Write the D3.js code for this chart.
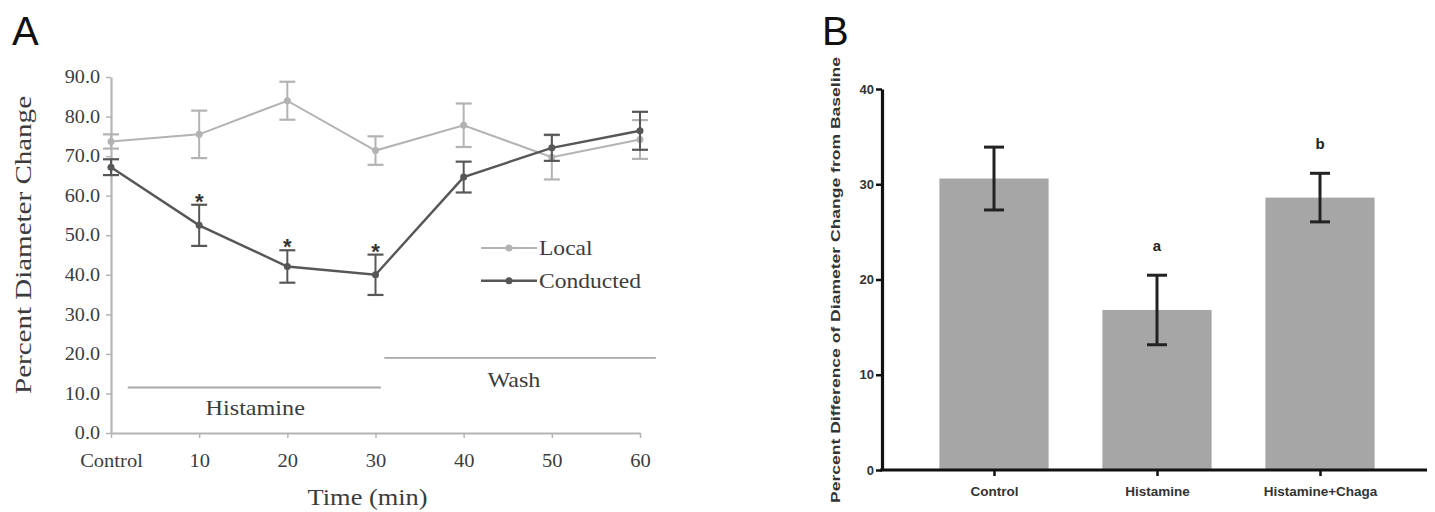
<!DOCTYPE html>
<html><head><meta charset="utf-8">
<script src="https://cdn.jsdelivr.net/npm/d3@7"></script>
<style>body{margin:0;background:#fff}svg{display:block}</style>
</head><body>
<svg id="c" width="1435" height="512"></svg>
<script>
// ---- Panel A data ----
const timeCats = ["Control","10","20","30","40","50","60"];
const localMean = [73.7, 75.5, 84.0, 71.4, 77.8, 69.7, 74.2];
const localErr  = [1.8, 6.0, 4.8, 3.6, 5.5, 5.6, 4.9];
const condMean  = [67.2, 52.5, 42.1, 40.0, 64.7, 72.1, 76.4];
const condErr   = [2.0, 5.2, 4.1, 5.1, 3.9, 3.3, 4.8];
const sigCats   = ["10","20","30"];
const yTicksA   = [0,10,20,30,40,50,60,70,80,90];
const seriesNames = ["Local","Conducted"];

// ---- Panel B data ----
const groupCats = ["Control","Histamine","Histamine+Chaga"];
const groupMean = [30.6, 16.8, 28.6];
const groupErr  = [3.3, 3.65, 2.55];
const groupLetters = ["", "a", "b"];
const yTicksB = [0,10,20,30,40];

const svg = d3.select("#c");
const serif = "'Liberation Serif','Times New Roman',serif";
const sans = "'Liberation Sans',Arial,sans-serif";
function stretch(sel, k){ sel.each(function(){ const w=this.getComputedTextLength(); this.setAttribute("textLength", w*k); this.setAttribute("lengthAdjust","spacingAndGlyphs");}); return sel; }

// ================= Panel A =================
const xA = d3.scalePoint().domain(timeCats).range([111, 640]);
const yA = d3.scaleLinear().domain([0,90]).range([433, 77]);
const gA = svg.append("g");
const axisCol = "#b4b4b4", txtA = "#3c3c3c";
const localCol = "#b3b3b3", condCol = "#575757";

svg.append("text").attr("x",12).attr("y",45).attr("font-family",sans).attr("font-size",40).attr("fill","#111").text("A");

// annotation lines
const step = xA.step();
gA.append("line").attr("x1", xA("Control")+0.19*step).attr("x2", xA("30")+0.06*step)
  .attr("y1", yA(11.5)).attr("y2", yA(11.5)).attr("stroke","#a8a8a8").attr("stroke-width",1.8);
gA.append("line").attr("x1", xA("30")+0.1*step).attr("x2", xA("60")+0.18*step)
  .attr("y1", yA(19)).attr("y2", yA(19)).attr("stroke","#a8a8a8").attr("stroke-width",1.8);
stretch(gA.append("text").attr("x", (xA("10")+xA("20"))/2+12).attr("y", yA(11.5)+27).attr("text-anchor","middle")
  .attr("font-family",serif).attr("font-size",21).attr("fill",txtA).text("Histamine"),1.15);
stretch(gA.append("text").attr("x", xA("40")+0.57*step).attr("y", yA(19)+29).attr("text-anchor","middle")
  .attr("font-family",serif).attr("font-size",21).attr("fill",txtA).text("Wash"),1.15);

// axes
const axL = gA.append("g").attr("transform",`translate(${xA("Control")},0)`)
  .call(d3.axisLeft(yA).tickValues(yTicksA).tickFormat(d3.format(".1f")).tickSize(5).tickSizeOuter(0));
const axB = gA.append("g").attr("transform",`translate(0,${yA(0)})`)
  .call(d3.axisBottom(xA).tickSize(5).tickSizeOuter(0));
[axL,axB].forEach(a=>{
  a.select(".domain").attr("stroke",axisCol).attr("stroke-width",2.2);
  a.selectAll(".tick line").attr("stroke",axisCol).attr("stroke-width",1.5);
  a.selectAll("text").attr("font-family",serif).attr("font-size",18).attr("fill",txtA);
});
axL.selectAll("text").attr("x",-11).each(function(){ stretch(d3.select(this),1.12); });
axB.selectAll("text").attr("y",18).attr("dy","0.9em").each(function(){ stretch(d3.select(this),1.14); });

gA.append("text").attr("transform",`translate(31,245) rotate(-90)`).attr("text-anchor","middle")
  .attr("font-family",serif).attr("font-size",24).attr("fill",txtA)
  .attr("textLength",298).attr("lengthAdjust","spacingAndGlyphs").text("Percent Diameter Change");
stretch(gA.append("text").attr("x",(xA("30")+xA("40"))/2-52).attr("y",505).attr("text-anchor","middle")
  .attr("font-family",serif).attr("font-size",24).attr("fill",txtA).text("Time (min)"),1.1);

function drawSeries(means, errs, col, lw){
  const pts = timeCats.map((c,i)=>({c, m:means[i], e:errs[i]}));
  const g = gA.append("g");
  g.append("path").datum(pts).attr("fill","none").attr("stroke",col).attr("stroke-width",lw)
    .attr("d", d3.line().x(d=>xA(d.c)).y(d=>yA(d.m)));
  const eb = g.selectAll(".eb").data(pts).join("g");
  eb.append("line").attr("x1",d=>xA(d.c)).attr("x2",d=>xA(d.c)).attr("y1",d=>yA(d.m-d.e)).attr("y2",d=>yA(d.m+d.e))
    .attr("stroke",col).attr("stroke-width",2);
  [-1,1].forEach(s=> eb.append("line").attr("x1",d=>xA(d.c)-8).attr("x2",d=>xA(d.c)+8)
    .attr("y1",d=>yA(d.m+s*d.e)).attr("y2",d=>yA(d.m+s*d.e)).attr("stroke",col).attr("stroke-width",2.2));
  g.selectAll("circle").data(pts).join("circle").attr("cx",d=>xA(d.c)).attr("cy",d=>yA(d.m)).attr("r",3.5).attr("fill",col);
}
drawSeries(localMean, localErr, localCol, 2);
drawSeries(condMean, condErr, condCol, 2.4);

// significance asterisks
sigCats.forEach(c=>{
  const i = timeCats.indexOf(c);
  gA.append("text").attr("x",xA(c)).attr("y",yA(condMean[i]+condErr[i])+4).attr("text-anchor","middle")
    .attr("font-family",sans).attr("font-weight","bold").attr("font-size",22).attr("fill","#333").text("*");
});

// legend
const legCols = [localCol, condCol];
seriesNames.forEach((n,i)=>{
  const ly = yA(46.8 - i*8.3);
  gA.append("line").attr("x1",481).attr("x2",537).attr("y1",ly).attr("y2",ly).attr("stroke",legCols[i]).attr("stroke-width",i?2.4:2);
  gA.append("circle").attr("cx",509).attr("cy",ly).attr("r",3.5).attr("fill",legCols[i]);
  stretch(gA.append("text").attr("x",539).attr("y",ly+7).attr("font-family",serif).attr("font-size",21).attr("fill",txtA).text(n),1.12);
});

// ================= Panel B =================
const xB = d3.scalePoint().domain(groupCats).range([994, 1320]);
const yB = d3.scaleLinear().domain([0,40]).range([470, 89]);
const gB = svg.append("g");
const bw = xB.step()*0.67;
svg.append("text").attr("x",822).attr("y",45).attr("font-family",sans).attr("font-size",40).attr("fill","#111").text("B");

gB.selectAll("rect").data(groupCats).join("rect")
  .attr("x",c=>xB(c)-bw/2).attr("width",bw)
  .attr("y",(c,i)=>yB(groupMean[i])).attr("height",(c,i)=>yB(0)-yB(groupMean[i]))
  .attr("fill","#a6a6a6");
groupCats.forEach((c,i)=>{
  const x=xB(c), t=yB(groupMean[i]+groupErr[i]), b=yB(groupMean[i]-groupErr[i]);
  gB.append("line").attr("x1",x).attr("x2",x).attr("y1",t).attr("y2",b).attr("stroke","#222").attr("stroke-width",3);
  [t,b].forEach(y=>gB.append("line").attr("x1",x-10).attr("x2",x+10).attr("y1",y).attr("y2",y).attr("stroke","#222").attr("stroke-width",3));
  if(groupLetters[i]) gB.append("text").attr("x",x).attr("y",yB(groupMean[i]+groupErr[i])-24).attr("text-anchor","middle")
    .attr("font-family",sans).attr("font-weight","bold").attr("font-size",15).attr("fill","#222").text(groupLetters[i]);
});

const bL = gB.append("g").attr("transform",`translate(882,0)`)
  .call(d3.axisLeft(yB).tickValues(yTicksB).tickSize(6).tickSizeOuter(0));
const bX = gB.append("g").attr("transform",`translate(0,${yB(0)})`)
  .call(d3.axisBottom(xB).tickSize(6).tickSizeOuter(0));
bX.select(".domain").attr("d","M880,0H1427");
[bL,bX].forEach(a=>{
  a.select(".domain").attr("stroke","#111").attr("stroke-width",3.2);
  a.selectAll(".tick line").attr("stroke","#111").attr("stroke-width",2.5);
  a.selectAll("text").attr("font-family",sans).attr("font-weight","bold").attr("fill","#333");
});
bL.selectAll("text").attr("font-size",13).attr("x",-8);
bX.selectAll("text").attr("font-size",13.5).attr("y",14).attr("dy","0.9em");

gB.append("text").attr("transform",`translate(840,280) rotate(-90)`).attr("text-anchor","middle")
  .attr("font-family",sans).attr("font-weight","bold").attr("font-size",12.5).attr("fill","#333")
  .attr("textLength",446).attr("lengthAdjust","spacingAndGlyphs")
  .text("Percent Difference of Diameter Change from Baseline");
</script>
</body></html>
